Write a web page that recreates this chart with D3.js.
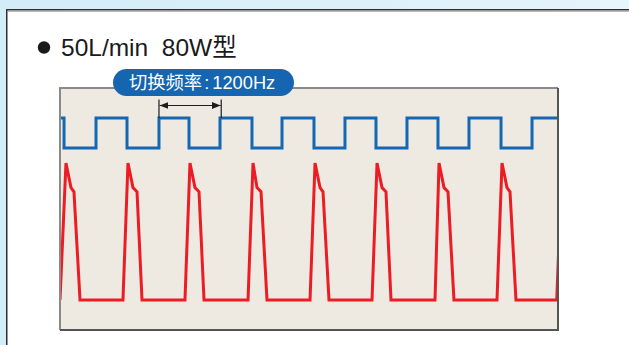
<!DOCTYPE html>
<html>
<head>
<meta charset="utf-8">
<script src="https://cdn.jsdelivr.net/npm/d3@7"></script>
<style>
  html, body { margin: 0; padding: 0; background: #ffffff; }
  svg { display: block; }
  text { font-family: "Liberation Sans", Arial, "Noto Sans CJK SC", sans-serif; }
</style>
</head>
<body>
<svg id="chart" width="629" height="345"></svg>
<script>
// ---- data -------------------------------------------------------------
const titleText = "50L/min  80W型";
const freqLabel = ["切换频率", ":", "1200Hz"];
const switchFreqHz = 1200;
const cycles = 8;

// switching (gate) signal: edge times in μs and level after each edge
const gateT     = [0, 54, 482, 897, 1325, 1727, 2142, 2570, 2972, 3400, 3815, 4230, 4645, 5060, 5475, 5904, 6319, 6667];
const gateLevel = [1, 0, 1, 0, 1, 0, 1, 0, 1, 0, 1, 0, 1, 0, 1, 0, 1, 1];

// output waveform: time in μs, amplitude in % of peak
const pulseT = [
  0, 80, 147, 187, 268,
  843, 910, 977, 1031, 1098,
  1673, 1740, 1807, 1861, 1928,
  2517, 2584, 2637, 2691, 2771,
  3347, 3414, 3481, 3521, 3601,
  4177, 4244, 4311, 4364, 4431,
  5020, 5074, 5141, 5194, 5274,
  5850, 5917, 5984, 6024, 6104,
  6650, 6720
];
const pulseV = [
  0, 100, 82, 79, 0,
  0, 100, 82, 79, 0,
  0, 100, 82, 79, 0,
  0, 100, 82, 79, 0,
  0, 100, 82, 79, 0,
  0, 100, 82, 79, 0,
  0, 100, 82, 79, 0,
  0, 100, 82, 79, 0,
  0, 100
];

// ---- layout -----------------------------------------------------------
const W = 629, H = 345;
const frame = { x0: 60, x1: 558, y0: 88, y1: 330 };
const periodUs = 1e6 / switchFreqHz;

const svg = d3.select("#chart");
const defs = svg.append("defs");

const bg = defs.append("linearGradient").attr("id", "bgGrad")
  .attr("x1", 0).attr("y1", 0).attr("x2", 1).attr("y2", 0);
bg.append("stop").attr("offset", "0%").attr("stop-color", "#d2ecf8");
bg.append("stop").attr("offset", "100%").attr("stop-color", "#e6f4fb");

defs.append("clipPath").attr("id", "plotClip")
  .append("rect")
  .attr("x", frame.x0).attr("y", frame.y0)
  .attr("width", frame.x1 - frame.x0).attr("height", frame.y1 - frame.y0);

defs.append("marker").attr("id", "arrowHead")
  .attr("viewBox", "0 0 10 8").attr("refX", 10).attr("refY", 4)
  .attr("markerWidth", 9).attr("markerHeight", 7).attr("markerUnits", "userSpaceOnUse")
  .attr("orient", "auto-start-reverse")
  .append("path").attr("d", "M0,0 L10,4 L0,8 Z").attr("fill", "#1d1d1d");

// page background and card
svg.append("rect").attr("width", W).attr("height", H).attr("fill", "url(#bgGrad)");
svg.append("rect")
  .attr("x", 6.75).attr("y", 9.75).attr("width", W + 20).attr("height", H + 20)
  .attr("fill", "#ffffff").attr("stroke", "#2e2e2e").attr("stroke-width", 1.5);
svg.append("line")
  .attr("x1", 7.5).attr("x2", W).attr("y1", 11.2).attr("y2", 11.2)
  .attr("stroke", "#9a9a9a").attr("stroke-width", 1);

// title
svg.append("circle").attr("cx", 44).attr("cy", 47.5).attr("r", 6.2).attr("fill", "#1a1a1a");
svg.append("text")
  .attr("x", 61).attr("y", 55.5)
  .attr("font-size", 24.5).attr("fill", "#1a1a1a")
  .attr("xml:space", "preserve")
  .style("white-space", "pre")
  .text(titleText);

// scales
const x = d3.scaleLinear().domain([0, cycles * periodUs]).range([frame.x0, frame.x1]);
const yGate = d3.scaleLinear().domain([0, 1]).range([148, 118]);
const yOut = d3.scaleLinear().domain([0, 100]).range([300, 163]);

// plot frame
svg.append("rect")
  .attr("x", frame.x0).attr("y", frame.y0)
  .attr("width", frame.x1 - frame.x0).attr("height", frame.y1 - frame.y0)
  .attr("fill", "#efeae1");

const plot = svg.append("g").attr("clip-path", "url(#plotClip)");

// gate signal (square wave)
const gatePts = gateT.map((t, i) => [t, gateLevel[i]]);
plot.append("path")
  .datum(gatePts)
  .attr("fill", "none")
  .attr("stroke", "#1467b3")
  .attr("stroke-width", 3)
  .attr("stroke-linejoin", "miter")
  .attr("d", d3.line().x(d => x(d[0])).y(d => yGate(d[1])).curve(d3.curveStepAfter));

// output pulses
const pulsePts = pulseT.map((t, i) => [t, pulseV[i]]);
plot.append("path")
  .datum(pulsePts)
  .attr("fill", "none")
  .attr("stroke", "#ec1c24")
  .attr("stroke-width", 3)
  .attr("stroke-linejoin", "miter")
  .attr("d", d3.line().x(d => x(d[0])).y(d => yOut(d[1])));

// frame border
svg.append("path")
  .attr("d", `M${frame.x0},${frame.y1} V${frame.y0} H${frame.x1}`)
  .attr("fill", "none").attr("stroke", "#8a8a8a").attr("stroke-width", 2);
svg.append("path")
  .attr("d", `M${frame.x0},${frame.y1} H${frame.x1} V${frame.y0}`)
  .attr("fill", "none").attr("stroke", "#555555").attr("stroke-width", 2);

// one switching period marker between two rising edges
const tA = gateT[4];
const tB = tA + periodUs;
const dim = svg.append("g").attr("stroke", "#1d1d1d").attr("stroke-width", 1.2);
[tA, tB].forEach(t => {
  dim.append("line")
    .attr("x1", x(t)).attr("x2", x(t))
    .attr("y1", 99.5).attr("y2", yGate(1));
});
dim.append("line")
  .attr("x1", x(tA) + 0.6).attr("x2", x(tB) - 0.6)
  .attr("y1", 105.5).attr("y2", 105.5)
  .attr("marker-start", "url(#arrowHead)")
  .attr("marker-end", "url(#arrowHead)");

// frequency label pill
const pill = svg.append("g");
pill.append("rect")
  .attr("x", 113).attr("y", 69).attr("width", 181).attr("height", 27)
  .attr("rx", 13.5).attr("fill", "#1565b0");
const lbl = pill.append("text")
  .attr("x", 129).attr("y", 89)
  .attr("font-size", 18.3).attr("fill", "#ffffff");
lbl.append("tspan").text(freqLabel[0]);
lbl.append("tspan").attr("dx", 2).text(freqLabel[1]);
lbl.append("tspan").attr("dx", 3).text(freqLabel[2]);
</script>
</body>
</html>
